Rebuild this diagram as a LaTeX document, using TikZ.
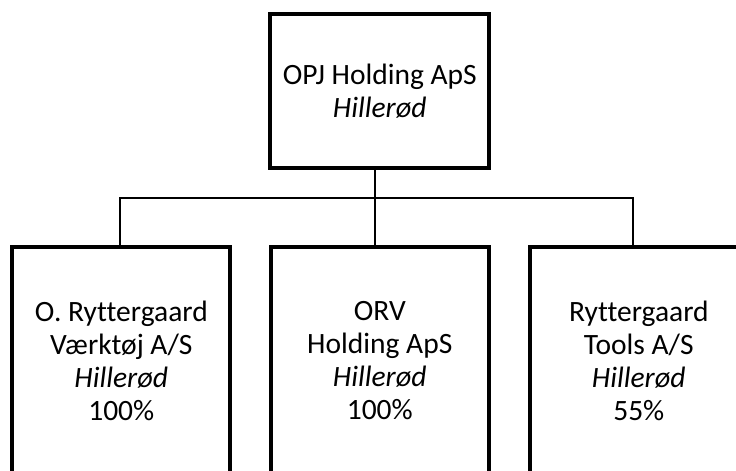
\documentclass[tikz,border=0pt]{standalone}
\usepackage{fontspec}
\setmainfont{Carlito}[Ligatures=NoCommon]
\usetikzlibrary{positioning}

\begin{document}
\begin{tikzpicture}[x=1pt,y=1pt,
  firm/.style={draw=black,line width=4pt,rectangle,outer sep=0pt,inner sep=0pt,
    align=center,font=\fontsize{29.5}{33}\selectfont},
  topfirm/.style={firm,minimum width=219pt,minimum height=154pt},
  subfirm/.style={firm,minimum width=218pt,minimum height=228pt},
  link/.style={draw=black,line width=2.2pt}]
\useasboundingbox (0,0) rectangle (736,471);
\fill[white] (0,0) rectangle (736,471);
\clip (0,0) rectangle (736,471);

\node[topfirm] (opj) at (379.8,380) {OPJ Holding ApS\\\textit{Hillerød}};
\node[subfirm,below=78.7pt of opj] (orv) {ORV\\Holding ApS\\\textit{Hillerød}\\100\%};
\node[subfirm,left=40.5pt of orv] (vaerktoej) {O. Ryttergaard\\Værktøj A/S\\\textit{Hillerød}\\100\%};
\node[subfirm,right=41pt of orv] (tools) {Ryttergaard\\Tools A/S\\\textit{Hillerød}\\55\%};

\draw[link] ([xshift=-4.5pt]opj.south) -- ++(0,-30) coordinate (bus);
\draw[link] ([xshift=-1pt]vaerktoej.north) |- (bus) -| ([xshift=-6pt]tools.north);
\draw[link] (bus) -- (bus |- orv.north);

\end{tikzpicture}
\end{document}
